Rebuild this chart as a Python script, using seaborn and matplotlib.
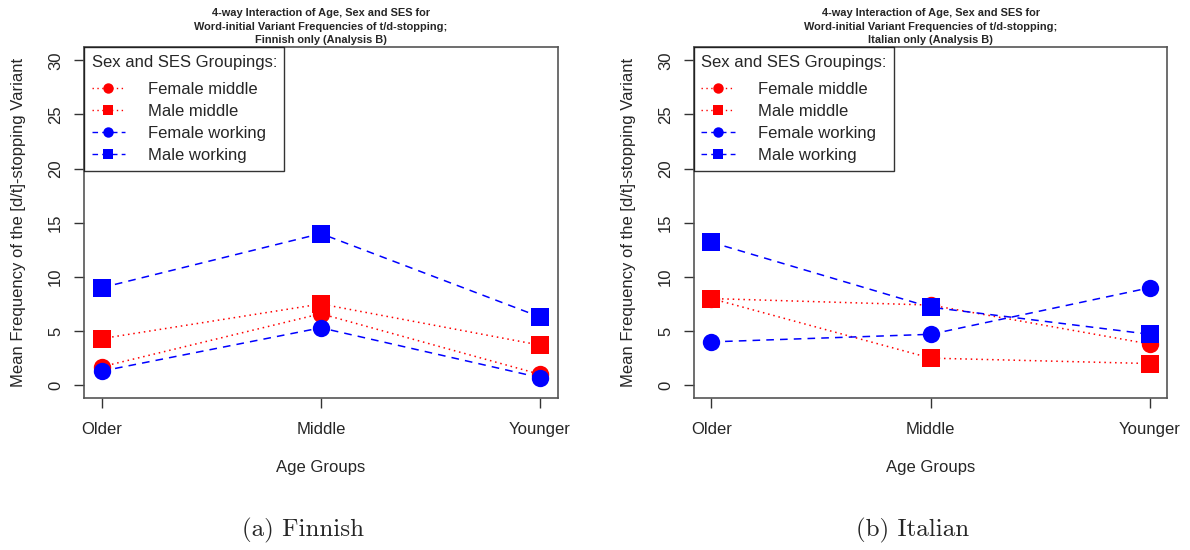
import seaborn as sns, matplotlib.pyplot as plt
import pandas as pd
from matplotlib.lines import Line2D

# Datos
ages = ['Older', 'Middle', 'Younger']
groups = ['Female middle', 'Male middle', 'Female working', 'Male working']

finnish_female_middle = [1.7, 6.6, 1.0]
finnish_male_middle = [4.3, 7.5, 3.7]
finnish_female_working = [1.3, 5.3, 0.7]
finnish_male_working = [9.0, 14.0, 6.3]

italian_female_middle = [8.0, 7.4, 3.8]
italian_male_middle = [8.0, 2.5, 2.0]
italian_female_working = [4.0, 4.7, 9.0]
italian_male_working = [13.2, 7.2, 4.7]

titles = ['4-way Interaction of Age, Sex and SES for\nWord-initial Variant Frequencies of t/d-stopping;\nFinnish only (Analysis B)',
          '4-way Interaction of Age, Sex and SES for\nWord-initial Variant Frequencies of t/d-stopping;\nItalian only (Analysis B)']
captions = ['(a) Finnish', '(b) Italian']

colors = {'Female middle': '#ff0000', 'Male middle': '#ff0000',
          'Female working': '#0000ff', 'Male working': '#0000ff'}
markers = {'Female middle': 'o', 'Male middle': 's',
           'Female working': 'o', 'Male working': 's'}
dashes = {'Female middle': (1, 2.5), 'Male middle': (1, 2.5),
          'Female working': (5, 4), 'Male working': (5, 4)}
ls = {'Female middle': (0, (1, 2.5)), 'Male middle': (0, (1, 2.5)),
      'Female working': (0, (4, 3)), 'Male working': (0, (4, 3))}


def make_df(series):
    rows = []
    for g, vals in zip(groups, series):
        for i, v in enumerate(vals):
            rows.append({'pos': i + 1, 'freq': v, 'group': g})
    return pd.DataFrame(rows)


dfs = [make_df([finnish_female_middle, finnish_male_middle, finnish_female_working, finnish_male_working]),
       make_df([italian_female_middle, italian_male_middle, italian_female_working, italian_male_working])]

sns.set_style('white')
plt.rcParams['font.family'] = ['Liberation Sans', 'DejaVu Sans']

fig = plt.figure(figsize=(11.9, 5.5), dpi=100)
lefts = [0.0706, 0.583]

for k in range(2):
    ax = fig.add_axes([lefts[k], 0.276, 0.398, 0.638])
    sns.lineplot(data=dfs[k], x='pos', y='freq', hue='group', style='group',
                 palette=colors, markers=markers, dashes=dashes,
                 markersize=12.5, markeredgewidth=0, linewidth=1.1,
                 legend=False, ax=ax)
    ax.set_xlim(0.92, 3.08)
    ax.set_ylim(-1.2, 31.2)
    ax.set_xticks([1, 2, 3])
    ax.set_xticklabels(ages, fontsize=12)
    ax.set_yticks(range(0, 31, 5))
    ax.set_yticklabels([str(v) for v in range(0, 31, 5)], fontsize=12,
                       rotation=90, va='center')
    ax.tick_params(axis='x', direction='out', length=7, width=1,
                   color='#333333', bottom=True, pad=10)
    ax.tick_params(axis='y', direction='out', length=7, width=1,
                   color='#333333', left=True, pad=8)
    for s in ax.spines.values():
        s.set_color('#555555')
        s.set_linewidth(1.2)
    ax.set_xlabel('Age Groups', fontsize=12, labelpad=17)
    ax.set_ylabel('Mean Frequency of the [d/t]-stopping Variant', fontsize=12, labelpad=16)
    ax.set_title(titles[k], fontsize=7.9, fontweight='bold', pad=3, linespacing=1.45)

    handles = [Line2D([], [], color=colors[g], linestyle=ls[g], marker=markers[g],
                      markersize=7.5, markeredgewidth=0, linewidth=1) for g in groups]
    leg = ax.legend(handles, groups, title='Sex and SES Groupings:', loc='upper left',
                    borderaxespad=0, fancybox=False, frameon=True, fontsize=12,
                    title_fontsize=12, handlelength=2.0, handletextpad=1.4,
                    borderpad=0.45, labelspacing=0.42, alignment='left')
    leg.get_frame().set_edgecolor('black')
    leg.get_frame().set_linewidth(1)
    leg._legend_box.sep = 9

    fig.text(lefts[k] + 0.184, 0.036, captions[k], fontsize=18, family='cmr10',
             ha='center', va='center')

fig.savefig('out.png', dpi=100)
